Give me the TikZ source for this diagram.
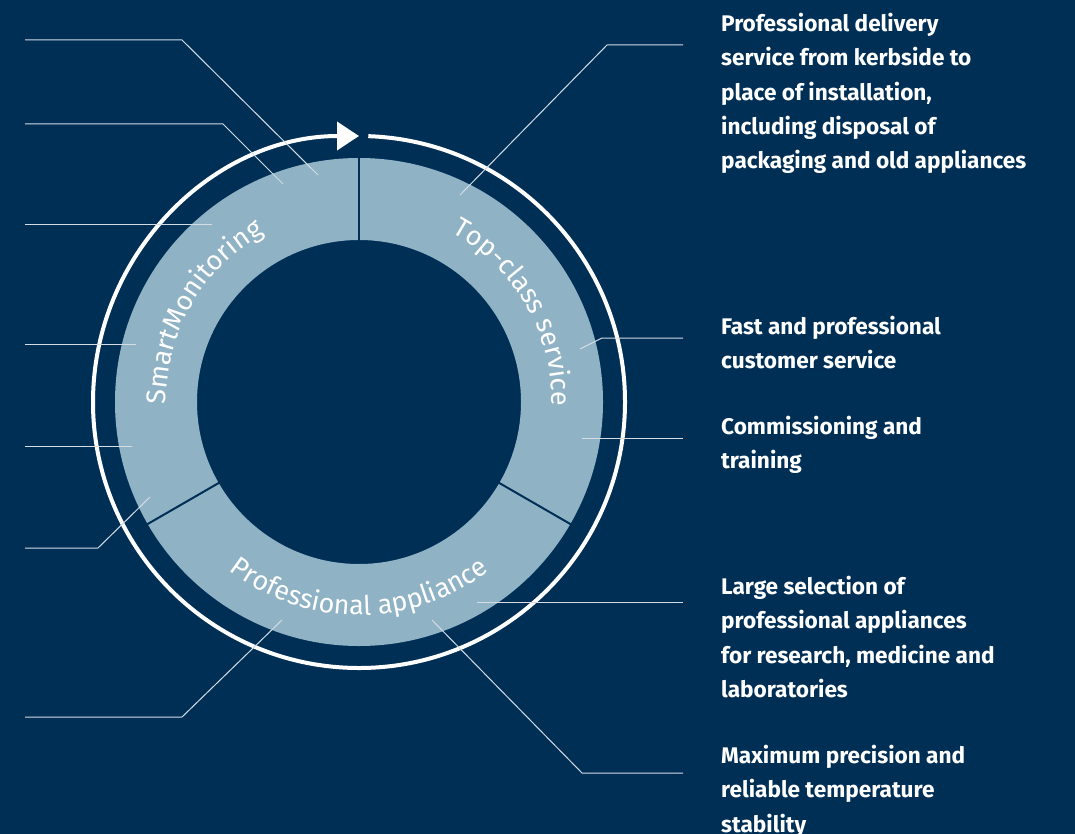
\documentclass[tikz,border=0pt]{standalone}
\usepackage{fontspec}
\setmainfont{Fira Sans}
\usetikzlibrary{arrows.meta,decorations.text}
\definecolor{bg_navy}{RGB}{0,47,86}
\definecolor{ring_blue}{RGB}{143,178,197}
\definecolor{leader_gray}{RGB}{212,220,228}

\begin{document}
\begin{tikzpicture}[x=1pt,y=1pt]
    \tikzstyle{item}=[anchor=north west, inner sep=0pt, align=left, text=white, font=\bfseries\fontsize{22.6}{34.3}\selectfont]
    \tikzstyle{leader}=[draw=leader_gray, line width=1pt]
    \tikzstyle{divider}=[draw=bg_navy, line width=2pt]
    \tikzstyle{ringtext}=[decorate, decoration={text along path, text align=center, text color=white}]

    \fill[bg_navy] (0,0) rectangle (1075,-834);
    \useasboundingbox (0,0) rectangle (1075,-834);

    \coordinate (c) at (359,-402);

    % ring and its three parts
    \fill[ring_blue, even odd rule] (c) circle[radius=244] (c) circle[radius=162];
    \draw[divider] ([shift={(90:161)}]c)  -- ([shift={(90:245)}]c);
    \draw[divider] ([shift={(-30:161)}]c) -- ([shift={(-30:245)}]c);
    \draw[divider] ([shift={(210:161)}]c) -- ([shift={(210:245)}]c);

    \path[ringtext, decoration={text={|\fontsize{27}{27}\selectfont|SmartMonitoring}}]
        ([shift={(210:193)}]c) arc[start angle=210, end angle=90, radius=193];
    \path[ringtext, decoration={text={|\fontsize{27}{27}\selectfont|Top-class service}}]
        ([shift={(90:193)}]c) arc[start angle=90, end angle=-30, radius=193];
    \path[ringtext, decoration={text={|\fontsize{27}{27}\selectfont|Professional appliance}}]
        ([shift={(210:213)}]c) arc[start angle=210, end angle=330, radius=213];

    % cycle arrow
    \draw[white, line width=4pt, -{Triangle[length=22pt, width=28pt]}]
        ([shift={(88:266)}]c) arc[start angle=88, end angle=-270, radius=266];

    % texts on the right
    \node[item] (delivery) at (721,-13) {Professional delivery\\service from kerbside to\\place of installation,\\including disposal of\\packaging and old appliances};
    \node[item] (customer) at (721,-316) {Fast and professional\\customer service};
    \node[item] (training) at (721,-416) {Commissioning and\\training};
    \node[item] (selection) at (721,-576) {Large selection of\\professional appliances\\for research, medicine and\\laboratories};
    \node[item] (precision) at (721,-745) {Maximum precision and\\reliable temperature\\stability};

    % leader lines, right
    \coordinate (r1a) at (460,-195); \coordinate (r1b) at (607,-45);  \coordinate (r1c) at (683,-45);
    \coordinate (r2a) at (580,-349); \coordinate (r2b) at (602,-338); \coordinate (r2c) at (683,-338);
    \coordinate (r3a) at (582,-438); \coordinate (r3c) at (683,-438);
    \coordinate (r4a) at (477,-602); \coordinate (r4c) at (683,-602);
    \coordinate (r5a) at (432,-620); \coordinate (r5b) at (582,-773); \coordinate (r5c) at (683,-773);
    \draw[leader] (r1a) -- (r1b) -- (r1c);
    \draw[leader] (r2a) -- (r2b) -- (r2c);
    \draw[leader] (r3a) -- (r3c);
    \draw[leader] (r4a) -- (r4c);
    \draw[leader] (r5a) -- (r5b) -- (r5c);

    % leader lines, left
    \coordinate (l1a) at (318,-175); \coordinate (l1b) at (182,-40);  \coordinate (l1c) at (25,-40);
    \coordinate (l2a) at (283,-184); \coordinate (l2b) at (223,-124); \coordinate (l2c) at (25,-124);
    \coordinate (l3a) at (212,-225); \coordinate (l3c) at (25,-225);
    \coordinate (l4a) at (136,-344); \coordinate (l4c) at (25,-344);
    \coordinate (l5a) at (132,-446); \coordinate (l5c) at (25,-446);
    \coordinate (l6a) at (150,-497); \coordinate (l6b) at (98,-548);  \coordinate (l6c) at (25,-548);
    \coordinate (l7a) at (282,-620); \coordinate (l7b) at (182,-717); \coordinate (l7c) at (25,-717);
    \draw[leader] (l1a) -- (l1b) -- (l1c);
    \draw[leader] (l2a) -- (l2b) -- (l2c);
    \draw[leader] (l3a) -- (l3c);
    \draw[leader] (l4a) -- (l4c);
    \draw[leader] (l5a) -- (l5c);
    \draw[leader] (l6a) -- (l6b) -- (l6c);
    \draw[leader] (l7a) -- (l7b) -- (l7c);
\end{tikzpicture}
\end{document}
